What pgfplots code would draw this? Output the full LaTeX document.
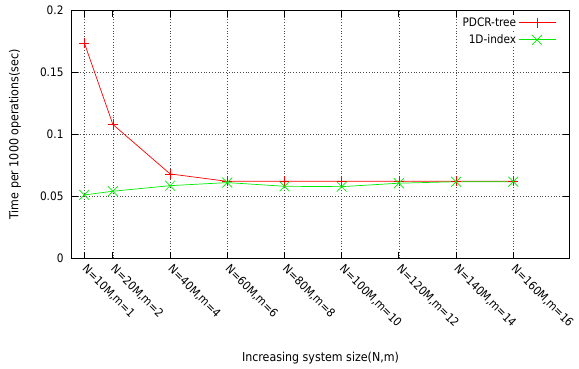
\documentclass[border=0pt]{standalone}
\usepackage{fontspec}
\setmainfont{DejaVu Sans Condensed}
\usepackage{pgfplots}
\pgfplotsset{compat=1.18}
\definecolor{gpred}{RGB}{255,0,0}
\definecolor{gpgreen}{RGB}{0,235,0}
\begin{document}
\begin{tikzpicture}
\begin{axis}[
  at={(0,0)}, anchor=south west,
  scale only axis, width=497pt, height=247.3pt,
  xmin=5.7, xmax=179.5, ymin=0, ymax=0.2,
  xtick={10,20,40,60,80,100,120,140,160},
  xticklabels={{N=10M,m=1},{N=20M,m=2},{N=40M,m=4},{N=60M,m=6},{N=80M,m=8},{N=100M,m=10},{N=120M,m=12},{N=140M,m=14},{N=160M,m=16}},
  ytick={0,0.05,0.1,0.15,0.2},
  yticklabels={0,0.05,0.1,0.15,0.2},
  grid=major,
  major grid style={black!70, line width=0.5pt, dash pattern=on 0.6pt off 2.2pt},
  axis line style={line width=1pt},
  tick style={black, line width=0.8pt},
  major tick length=6pt,
  ticklabel style={font=\fontsize{11.7}{14}\selectfont},
  label style={font=\fontsize{12.3}{14}\selectfont},
  xticklabel style={yshift=-9pt, rotate=-45, anchor=west, inner sep=0pt},
  yticklabel style={xshift=-5pt},
  xlabel={Increasing system size(N,m)},
  ylabel={Time per 1000 operations(sec)},
  xlabel style={at={(axis description cs:0.500,-0.4044)}, anchor=center},
  ylabel style={at={(axis description cs:-0.1147,0.5)}, anchor=center},
  legend plot pos=right,
  legend cell align=right,
  legend style={draw=none, fill=none, nodes={fill=white}, at={(axis description cs:0.978,1.008)}, anchor=north east,
    font=\fontsize{11.7}{14}\selectfont, inner sep=2pt, row sep=3pt},
]
\addlegendimage{empty legend}
\addlegendentry[fill=none, inner sep=0pt]{}
\addplot[color=gpred, line width=0.7pt, mark=+, mark size=5pt,
  legend image code/.code={\draw[mark repeat=2,mark phase=2,color=gpred,line width=0.7pt,mark=+,mark size=5pt] plot coordinates {(0pt,0pt) (18.5pt,0pt) (37pt,0pt)};}] coordinates {
  (10,0.174) (20,0.108) (40,0.068) (60,0.062) (80,0.062) (100,0.062) (120,0.062) (140,0.062) (160,0.062)
};
\addlegendentry{PDCR-tree}
\addplot[color=gpgreen, line width=0.7pt, mark=x, mark size=7pt,
  legend image code/.code={\draw[mark repeat=2,mark phase=2,color=gpgreen,line width=0.7pt,mark=x,mark size=7pt] plot coordinates {(0pt,0pt) (18.5pt,0pt) (37pt,0pt)};}] coordinates {
  (10,0.051) (20,0.054) (40,0.0585) (60,0.061) (80,0.058) (100,0.0577) (120,0.0605) (140,0.0617) (160,0.0617)
};
\addlegendentry{1D-index}
\end{axis}
\pgfresetboundingbox
\path[use as bounding box] (-72pt,-110pt) rectangle (507pt,258pt);
\end{tikzpicture}
\end{document}
